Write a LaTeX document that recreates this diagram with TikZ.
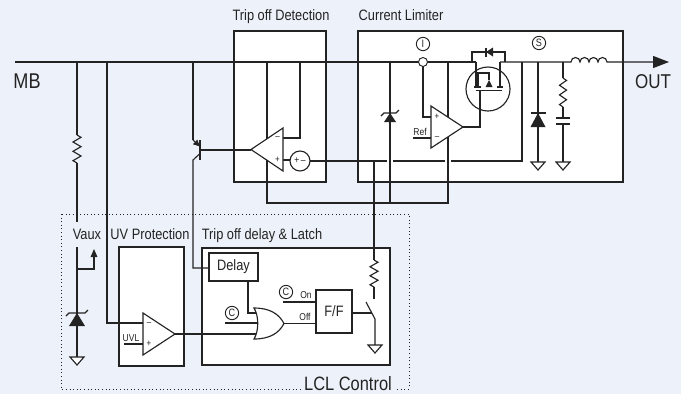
\documentclass[tikz,border=0pt]{standalone}
\usepackage{fontspec}
\setmainfont{Liberation Sans}[FakeStretch=0.85]
\usetikzlibrary{arrows.meta}
\definecolor{bg}{RGB}{237,242,250}
\definecolor{ink}{RGB}{35,35,35}
\newcommand\mygnd[2]{\draw[wire,fill=white,line join=miter] ({#1-7},#2) -- ({#1+7},#2) -- (#1,{#2+8}) -- cycle;}
\newcommand\myres[4]{\draw[wire,line join=miter] (#1,#2) -- ({#1+#4},{#2+(#3-#2)/12}) -- ({#1-#4},{#2+3*(#3-#2)/12}) -- ({#1+#4},{#2+5*(#3-#2)/12}) -- ({#1-#4},{#2+7*(#3-#2)/12}) -- ({#1+#4},{#2+9*(#3-#2)/12}) -- ({#1-#4},{#2+11*(#3-#2)/12}) -- (#1,#3);}
\newcommand\myzen[4]{\fill[ink] (#1,#2) -- ({#1-#4},{#2+#3}) -- ({#1+#4},{#2+#3}) -- cycle;
 \draw[wire] ({#1-#4-3},{#2+3}) -- ({#1-#4},#2) -- ({#1+#4},#2) -- ({#1+#4+3},{#2-3});}
\begin{document}
\begin{tikzpicture}[x=0.75pt,y=-0.75pt,
 wire/.style={draw=ink,line width=0.85pt},
 blk/.style={draw=ink,fill=white,line width=0.85pt},
 lbl/.style={font=\fontsize{11.3}{13}\selectfont,text=ink,inner sep=0pt,anchor=base},
 big/.style={font=\fontsize{16}{18}\selectfont,text=ink,inner sep=0pt,anchor=base},
 tiny/.style={font=\fontsize{7.5}{8}\selectfont,text=ink,inner sep=0pt,anchor=base},
 sgn/.style={font=\fontsize{7}{7}\selectfont,text=ink,inner sep=0pt},
 circ/.style={circle,draw=ink,line width=0.7pt,fill=white,minimum size=10pt,inner sep=0pt,font=\fontsize{8}{8}\selectfont,text=ink},
 boxn/.style={draw=ink,fill=white,line width=0.85pt,inner sep=0pt,font=\fontsize{11.3}{13}\selectfont,text=ink},
]
\fill[bg] (0,0) rectangle (681,394);
\useasboundingbox (0,0) rectangle (681,394);

% boxes
\draw[ink,dotted,line width=0.7pt] (61,214) rectangle (409,389);
\draw[blk] (234,31) rectangle (326,182);
\draw[blk] (358,31) rectangle (623,182);
\draw[blk] (119,247) rectangle (184,366);
\draw[blk] (202,248) rectangle (390,365);

% labels
\node[lbl] (tdl) at (281,20) {Trip off Detection};
\node[lbl] (cll) at (401,20) {Current Limiter};
\node[lbl] (vaux) at (87,239) {Vaux};
\node[lbl] (uvp) at (150,239) {UV Protection};
\node[lbl] (tdd) at (262,239) {Trip off delay \& Latch};
\node[big,fill=bg,inner sep=2pt,font=\fontsize{14.5}{16}\selectfont] (lcl) at (348,390) {LCL Control};
\node[big] (mb) at (27,88) {MB};
\node[big,font=\fontsize{15}{17}\selectfont] (out) at (653,88) {OUT};

% bus
\draw[wire] (15,62) -- (476,62);
\draw[wire,-{Triangle[length=12pt,width=9pt]}] (500,62) -- (571,62)
  arc[start angle=180,end angle=0,radius=3.375pt]
  arc[start angle=180,end angle=0,radius=3.375pt]
  arc[start angle=180,end angle=0,radius=3.375pt]
  arc[start angle=180,end angle=0,radius=3.375pt] -- (669,62);

% Vaux branch
\draw[wire] (77,62) -- (77,135);
\myres{77}{135}{163}{4}
\draw[wire] (77,163) -- (77,222);
\draw[wire] (77,247) -- (77,357);
\myzen{77}{313}{13}{8}
\draw[wire,-{Triangle[length=6pt,width=5pt]}] (77,269) -- (94,269) -- (94,249);
\mygnd{77}{357}

% UV sense line
\draw[wire] (107,62) -- (107,323) -- (143,323);

% transistor
\draw[wire] (193,62) -- (193,140);
\draw[wire,-{Triangle[length=5pt,width=4.5pt]}] (193,140) -- (200,146.5);
\draw[draw=ink,line width=1.1pt] (200,140) -- (200,160);
\draw[wire] (200,153.5) -- (193,160) -- (193,268) -- (209,268);
\draw[wire] (200,150) -- (251,150);

% trip off detection wiring
\draw[wire] (267,62) -- (267,203) -- (448,203) -- (448,62);
\draw[wire] (390,62) -- (390,203);
\draw[wire] (300,62) -- (300,138) -- (283,138);
\draw[wire] (283,160) -- (291,160);
\draw[wire] (310,161) -- (387,161);
\draw[wire] (393,161) -- (445,161);
\draw[wire] (451,161) -- (522,161) -- (522,62);
\draw[wire] (374,161) -- (374,260);
\myres{374}{260}{287}{4}
\draw[wire] (374,287) -- (374,299);
\draw[blk,line join=miter] (283,128) -- (283,171) -- (251,149.5) -- cycle;
\node[sgn] (tm) at (277.5,138) {–};
\node[sgn] (tp) at (277.5,160) {+};
\node[circle,draw=ink,fill=white,line width=0.85pt,minimum size=15pt,inner sep=0pt,font=\fontsize{7.5}{7.5}\selectfont,text=ink] (pm) at (300,161) {+\,–};

% current limiter
\draw[wire] (423,62) -- (423,117) -- (431,117);
\node[circle,draw=ink,fill=white,line width=0.7pt,minimum size=6.75pt,inner sep=0pt] (isens) at (423,62) {};
\node[circ] (ci) at (423,44) {I};
\node[circ] (cs) at (539,43) {S};
\draw[wire] (413,138) -- (431,138);
\node[tiny] (ref) at (420,135) {Ref};
\draw[blk,line join=miter] (431,106) -- (431,148) -- (463,127) -- cycle;
\node[sgn] (cp) at (437,117) {+};
\node[sgn] (cm) at (437,138) {–};
\draw[wire] (463,127) -- (480,127) -- (480,90);
% mosfet
\draw[wire] (488,89) circle[radius=16.5pt];
\draw[wire] (476,62) -- (476,87);
\draw[wire] (474,87) -- (481,87);
\draw[wire] (500,62) -- (500,87);
\draw[wire] (497,87) -- (503,87);
\draw[wire] (478,87) -- (478,73) -- (489,73) -- (489,80);
\fill[ink] (489,80) -- (485.5,87) -- (492.5,87) -- cycle;
\draw[wire] (476,90.5) -- (502,90.5);
\draw[wire] (472,62) -- (472,52) -- (505,52) -- (505,62);
\fill[ink] (486,52) -- (493,47.5) -- (493,56.5) -- cycle;
\draw[wire] (486,47.5) -- (486,56.5);
% zener in limiter
\myzen{390}{113}{9}{6}
% freewheel diode
\draw[wire] (538,62) -- (538,162);
\fill[ink] (538,113) -- (530.5,127) -- (545.5,127) -- cycle;
\draw[wire] (530.5,113) -- (545.5,113);
\mygnd{538}{162}
% RC
\draw[wire] (563,62) -- (563,78);
\myres{563}{78}{107}{3.5}
\draw[wire] (563,107) -- (563,118);
\draw[wire] (556,118) -- (570,118);
\draw[wire] (556,124) -- (570,124);
\draw[wire] (563,124) -- (563,162);
\mygnd{563}{162}

% LCL control
\draw[wire] (124,344) -- (143,344);
\node[tiny] (uvl) at (131,341) {UVL};
\draw[blk,line join=miter] (143,313) -- (143,355) -- (175,334) -- cycle;
\node[sgn] (um) at (149,324) {–};
\node[sgn] (up) at (149,344) {+};
\draw[wire] (175,334) -- (259,334);
\node[boxn,minimum width=36.75pt,minimum height=21pt] (delay) at (233.5,267) {Delay};
\draw[wire] (248,281) -- (248,313) -- (259,313);
\draw[wire] (225,323) -- (259,323);
\node[circ] (cc1) at (232,313) {C};
\draw[blk] (254,308) .. controls (270,308) and (279,314) .. (284,323.5) .. controls (279,333) and (270,339) .. (254,339) .. controls (259,331) and (259,316) .. (254,308) -- cycle;
\node[boxn,minimum width=27pt,minimum height=32.25pt] (ff) at (334,311.5) {F/F};
\draw[wire] (284,323.5) -- (ff.west |- 0,323.5);
\draw[wire] (283,302) -- (ff.west |- 0,302);
\node[circ] (cc2) at (286,292) {C};
\node[tiny] (on) at (306,298.5) {On};
\node[tiny] (off) at (305,320) {Off};
\draw[wire] (ff.east |- 0,313) -- (371.5,313);
\draw[wire] (366,302) -- (375,319) -- (375,345);
\mygnd{375}{345}
\end{tikzpicture}
\end{document}
